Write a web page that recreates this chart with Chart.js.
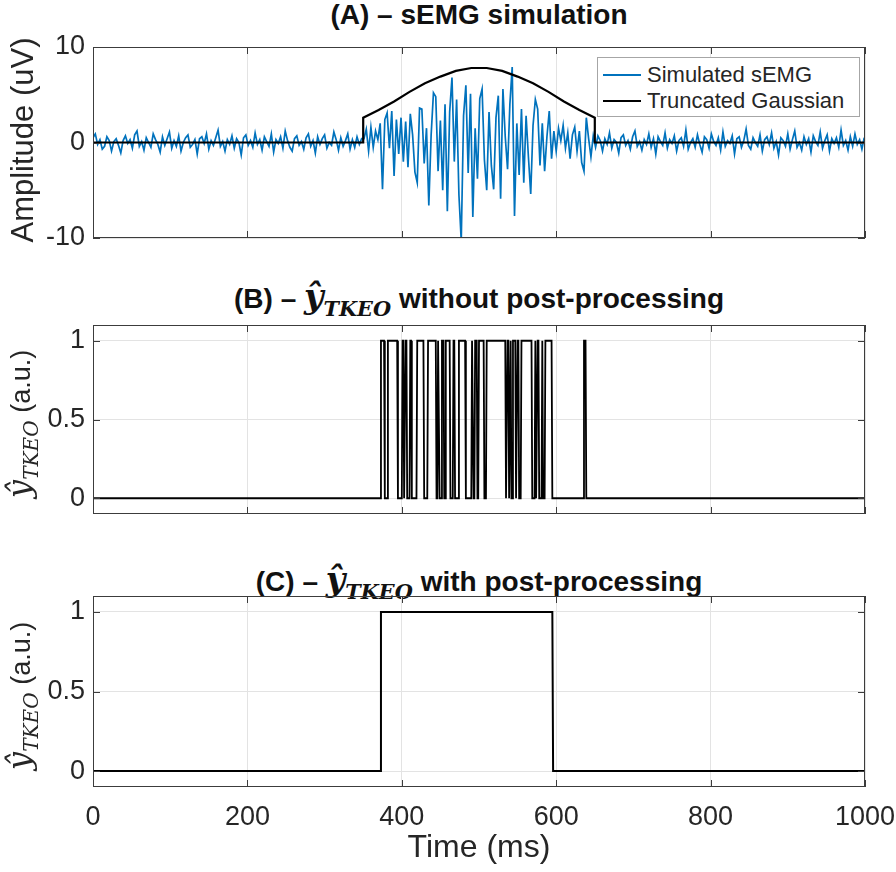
<!DOCTYPE html>
<html>
<head>
<meta charset="utf-8">
<title>sEMG simulation and TKEO onset detection</title>
<script src="https://cdn.jsdelivr.net/npm/chart.js@4.4.1/dist/chart.umd.min.js"></script>
<style>
  body { margin: 0; background: #fff; }
  #figure { position: relative; width: 896px; height: 872px; font-family: "Liberation Sans", Arial, sans-serif; color: #000; }
  canvas { position: absolute; left: 0; }
  .panel-title { position: absolute; left: 93px; width: 772px; text-align: center; font-weight: bold; font-size: 28px; white-space: nowrap; line-height: 1; transform: translateY(-50%); color: #111; }
  .math { font-family: "DejaVu Serif", "Liberation Serif", serif; font-style: italic; font-size: 1.2em; }
  .math sub { font-size: 0.62em; }
  .ylabel { position: absolute; left: 22px; transform: translate(-50%, -50%) rotate(-90deg); white-space: nowrap; font-size: 31px; color: #262626; line-height: 1; }
  .ylabel.small { font-size: 27px; }
  #legend { position: absolute; left: 597px; top: 57px; width: 263px; height: 60px; border: 1px solid #a6a6a6; background: #fff; font-size: 22px; color: #262626; box-sizing: border-box; padding-top: 4px; }
  #legend .row { display: flex; align-items: center; height: 26px; }
  #legend .swatch { width: 38px; margin: 0 6px 0 5px; }
</style>
</head>
<body>
<div id="figure">
  <div class="panel-title" style="top: 15px;">(A) – sEMG simulation</div>
  <div class="panel-title" style="top: 300px;">(B) – <span class="math">ŷ<sub>TKEO</sub></span> without post-processing</div>
  <div class="panel-title" style="top: 583px;">(C) – <span class="math">ŷ<sub>TKEO</sub></span> with post-processing</div>

  <canvas id="chartA" width="896" height="250" style="top: 0px;"></canvas>
  <canvas id="chartB" width="896" height="266" style="top: 260px;"></canvas>
  <canvas id="chartC" width="896" height="332" style="top: 540px;"></canvas>

  <div class="ylabel" style="top: 140px;">Amplitude (uV)</div>
  <div class="ylabel small" style="top: 424px;"><span class="math">ŷ<sub>TKEO</sub></span> (a.u.)</div>
  <div class="ylabel small" style="top: 696px;"><span class="math">ŷ<sub>TKEO</sub></span> (a.u.)</div>

  <div id="legend"></div>
</div>

<script>
// x axis (ms)
const timeTicks = [0, 200, 400, 600, 800, 1000];
const sampleStepMs = 3;

// simulated sEMG, one value every 3 ms from 0 to 999 ms
const semgBefore = [
  0.5, 0.9, -0.2, 0.3, -0.7, -0.4, 0.6, 0.2, -0.9, 0.1,
  0.4, -0.3, -1.1, 0.2, 0.7, -0.1, 0.3, -0.6, 0.8, 1.2,
  -0.4, 0.1, -0.8, 0.5, 0.0, -0.5, 0.9, 0.3, -0.2, -1.0,
  0.6, -0.3, 0.4, 1.1, -0.6, 0.2, -0.4, 0.7, -0.9, 0.0,
  0.5, 0.8, -0.5, -0.2, 0.3, -1.2, 0.4, 0.6, -0.1, 0.9,
  -0.7, 0.2, -0.3, 0.5, 1.3, -0.4, 0.1, -0.9, 0.3, -0.2,
  0.7, -0.6, 0.4, 0.0, -1.3, 0.5, 0.8, -0.3, 0.2, -0.5,
  1.0, -0.2, 0.3, -0.8, 0.6, 0.1, -0.4, 0.9, -1.0, 0.3,
  -0.1, 0.6, -0.6, 1.2, 0.2, -0.5, -0.9, 0.4, 0.7, -0.3,
  0.1, -0.7, 0.5, 0.9, -0.4, 0.2, -1.1, 0.6, -0.2, 0.4,
  0.8, -0.6, 0.0, -0.3, 1.1, 0.3, -0.8, 0.5, -0.4, 0.2,
  0.9, -0.7, 0.3, -0.5, 0.6, -0.2, 0.4
];
const semgBurst = [
  0.4, 1.4, -0.9, 1.6, -0.5, 1.2, 0.3, 2.0, -4.9, 2.4,
  3.1, -0.6, 3.3, -3.5, 2.4, -1.2, 2.6, -2.0, 2.2, -2.6,
  3.0, 0.8, -3.1, -4.2, 3.6, 3.5, -2.2, 1.5, -6.6, 0.8,
  5.2, 4.8, -3.0, 2.3, -5.0, 4.0, -7.2, 3.2, 6.8, -2.0,
  4.5, -5.5, -10.3, 2.8, 6.0, -3.2, 5.1, -7.8, 1.5, -3.8,
  4.6, 5.6, -1.8, -5.0, 3.2, -2.4, -4.9, 2.6, 4.9, -5.9,
  5.6, 0.6, -2.8, 4.0, 7.9, -7.7, 2.0, -3.4, 3.5, -4.2,
  2.8, -1.5, -5.4, 1.8, 4.5, 3.5, -2.4, 2.0, -3.0, 0.6,
  3.3, -1.7, 1.2, -0.9, 1.5, 0.2, 1.8, -0.6, 1.0, -1.7,
  0.8, 1.6, -0.9, 1.2, -2.1, -3.0, 2.6, 0.4, -1.5, 0.7
];
const semgAfter = [
  -0.5, 0.7, 0.2, -0.9, 0.4, -0.2, 1.0, -0.6, 0.3, 0.0,
  -1.1, 0.5, 0.8, -0.3, 0.2, -0.7, 0.6, 1.2, -0.4, 0.1,
  -0.8, 0.3, -0.2, 0.9, -0.5, 0.4, -1.2, 0.6, 0.1, -0.3,
  1.0, -0.6, 0.3, -0.1, 0.7, -0.9, 0.2, 0.5, -0.4, 1.3,
  -0.7, 0.0, 0.4, -0.5, 0.8, -0.2, -1.0, 0.6, 0.3, -0.6,
  0.9, 0.1, -0.3, 0.5, -0.8, 1.1, -0.4, 0.2, -0.1, 0.7,
  -1.2, 0.4, 0.6, -0.5, 0.2, 1.4, -0.3, -0.7, 0.5, 0.0,
  -0.4, 0.8, -0.9, 0.3, 0.6, -0.2, 1.0, -0.6, 0.1, -1.3,
  0.5, 0.2, -0.4, 0.9, -0.7, 0.3, 1.2, -0.5, 0.0, -0.8,
  0.6, -0.2, 0.4, -1.0, 0.7, 0.1, -0.3, 1.1, -0.6, 0.2,
  0.8, -0.9, 0.4, -0.1, 0.5, -0.5, 1.3, -0.3, 0.2, -0.8,
  0.6, -0.4, 0.9, -0.2, 0.3, -0.7, 0.5
];

// truncated gaussian envelope
const gaussTime  = [0, 350, 350, 370, 390, 410, 430, 450, 470, 490, 500, 510, 530, 550, 570, 590, 610, 630, 650, 650, 1000];
const gaussValue = [0, 0, 2.6, 3.4, 4.3, 5.3, 6.2, 6.9, 7.5, 7.8, 7.8, 7.8, 7.5, 6.9, 6.2, 5.3, 4.3, 3.4, 2.6, 0, 0];

// TKEO detection, pulses as [on, off] times in ms
const tkeoRawOn  = [372, 381, 400, 404, 410, 419, 433, 446, 451, 456, 466, 473, 490, 494, 499, 509, 536, 540, 543, 549, 554, 572, 575, 581, 585, 635];
const tkeoRawOff = [377, 394, 402, 406, 412, 428, 444, 448, 454, 462, 468, 482, 492, 497, 506, 534, 538, 541, 547, 551, 568, 573, 577, 582, 594, 638];
const tkeoPostOn  = [372];
const tkeoPostOff = [595];

const ampTicks = [-10, 0, 10];
const binTicks = [0, 0.5, 1];

Chart.defaults.font.family = '"Liberation Sans", Arial, sans-serif';
Chart.defaults.color = '#262626';

const semgValues = semgBefore.concat(semgBurst, semgAfter);
const semgPoints = semgValues.map((v, i) => ({ x: i * sampleStepMs, y: v }));
const gaussPoints = gaussTime.map((t, i) => ({ x: t, y: gaussValue[i] }));

function pulsesToPoints(on, off) {
    const pts = [{ x: 0, y: 0 }];
    for (let i = 0; i < on.length; i++) {
        pts.push({ x: on[i], y: 0 }, { x: on[i] + 1, y: 1 }, { x: off[i], y: 1 }, { x: off[i] + 1, y: 0 });
    }
    pts.push({ x: 1000, y: 0 });
    return pts;
}

// box around the axes plus inward tick marks, like matlab
const matlabBox = {
    id: 'matlabBox',
    afterDraw(chart) {
        const { ctx, chartArea: a, scales: { x, y } } = chart;
        ctx.save();
        ctx.strokeStyle = '#3c3c3c';
        ctx.lineWidth = 1;
        ctx.beginPath();
        x.ticks.forEach(t => {
            const px = Math.round(x.getPixelForValue(t.value)) + 0.5;
            ctx.moveTo(px, a.bottom); ctx.lineTo(px, a.bottom - 7);
            ctx.moveTo(px, a.top); ctx.lineTo(px, a.top + 7);
        });
        y.ticks.forEach(t => {
            const py = Math.round(y.getPixelForValue(t.value)) + 0.5;
            ctx.moveTo(a.left, py); ctx.lineTo(a.left + 7, py);
            ctx.moveTo(a.right, py); ctx.lineTo(a.right - 7, py);
        });
        ctx.stroke();
        ctx.strokeRect(a.left + 0.5, a.top + 0.5, a.width - 1, a.height - 1);
        ctx.restore();
    }
};

// keep the plot boxes at fixed pixel positions: no automatic label padding
function noAutoPadding(s) {
    s.paddingLeft = 0;
    s.paddingRight = 0;
    s.paddingTop = 0;
    s.paddingBottom = 0;
}

function makePanel(id, datasets, yMin, yMax, yTicks, padTop, xHeight, showX) {
    return new Chart(document.getElementById(id), {
        type: 'line',
        data: { datasets: datasets },
        options: {
            responsive: false,
            animation: false,
            events: [],
            layout: { padding: { top: padTop, right: 31, bottom: 0, left: 0 } },
            plugins: { legend: { display: false }, tooltip: { enabled: false } },
            elements: { point: { radius: 0 }, line: { tension: 0 } },
            scales: {
                x: {
                    type: 'linear',
                    min: 0,
                    max: 1000,
                    afterBuildTicks: s => { s.ticks = timeTicks.map(v => ({ value: v })); },
                    afterFit: s => { s.height = xHeight; noAutoPadding(s); },
                    grid: { color: '#e3e3e3', drawTicks: false },
                    border: { display: false },
                    ticks: { display: showX, font: { size: 27 }, padding: 14, callback: v => String(v), maxRotation: 0 },
                    title: { display: showX, text: 'Time (ms)', font: { size: 32 }, padding: { top: 0, bottom: 5 } }
                },
                y: {
                    type: 'linear',
                    min: yMin,
                    max: yMax,
                    afterBuildTicks: s => { s.ticks = yTicks.map(v => ({ value: v })); },
                    afterFit: s => { s.width = 93; noAutoPadding(s); },
                    grid: { color: '#e3e3e3', drawTicks: false },
                    border: { display: false },
                    ticks: { font: { size: 27 }, padding: 8, callback: v => String(v) }
                }
            }
        },
        plugins: [matlabBox]
    });
}

const chartA = makePanel('chartA', [
    { label: 'Simulated sEMG', data: semgPoints, borderColor: '#0072BD', borderWidth: 1.7, order: 2 },
    { label: 'Truncated Gaussian', data: gaussPoints, borderColor: '#000000', borderWidth: 2.2, order: 1 }
], -10, 10, ampTicks, 47, 12, false);

makePanel('chartB', [
    { label: 'TKEO raw', data: pulsesToPoints(tkeoRawOn, tkeoRawOff), borderColor: '#000000', borderWidth: 1.8 }
], -0.1, 1.1, binTicks, 65, 12, false);

makePanel('chartC', [
    { label: 'TKEO post', data: pulsesToPoints(tkeoPostOn, tkeoPostOff), borderColor: '#000000', borderWidth: 2 }
], -0.1, 1.1, binTicks, 56, 85, true);

// legend inside panel A
const legend = document.getElementById('legend');
chartA.data.datasets.forEach(ds => {
    legend.innerHTML += `<div class="row"><div class="swatch" style="border-top: 2px solid ${ds.borderColor};"></div><span>${ds.label}</span></div>`;
});
</script>
</body>
</html>
